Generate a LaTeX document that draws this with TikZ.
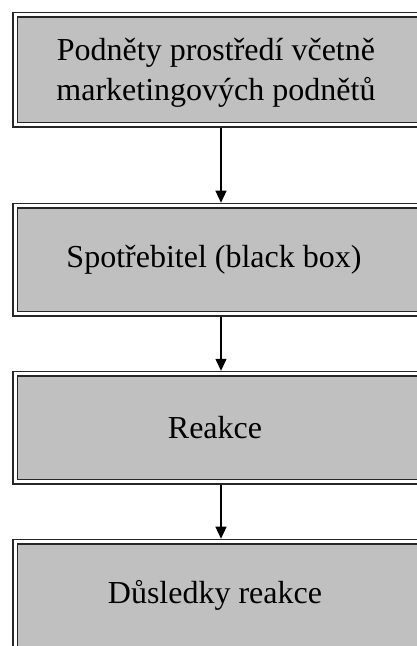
\documentclass[tikz,border=0pt]{standalone}
\usepackage{fontspec}
\setmainfont{Liberation Serif}
\usetikzlibrary{arrows.meta,positioning}
\definecolor{boxgray}{HTML}{C0C0C0}

\begin{document}
\begin{tikzpicture}[x=1pt,y=1pt,
    stage/.style={draw=black!85, fill=boxgray, double=white, double distance=3pt,
      line width=1.6pt, minimum width=412pt, minimum height=108pt, inner sep=0pt, outer sep=0pt},
    stagetext/.style={font=\fontsize{32}{40}\selectfont, align=center, inner sep=0pt},
    flow/.style={-{Triangle[width=11pt,length=12pt]}, line width=1.3pt, shorten <=3pt, shorten >=3pt}]
  \useasboundingbox (0,0) rectangle (416,646);
  % boxes
  \node[stage, minimum height=110pt] (stimuli) at (221,576) {};
  \node[stage] (consumer) at (221,386.3) {};
  \node[stage] (reaction) at (221,218.2) {};
  \node[stage] (effects) at (221,50.3) {};
  % texts
  \node[stagetext] at ([xshift=-5pt,yshift=-3pt]stimuli.center) {Podněty prostředí včetně\\marketingových podnětů};
  \node[stagetext] at ([xshift=-7pt]consumer.center) {Spotřebitel (black box)};
  \node[stagetext] at ([xshift=-6pt]reaction.center) {Reakce};
  \node[stagetext] at ([xshift=-6pt]effects.center) {Důsledky reakce};
  % arrows
  \draw[flow] (stimuli) -- (consumer);
  \draw[flow] (consumer) -- (reaction);
  \draw[flow] (reaction) -- (effects);
\end{tikzpicture}
\end{document}
